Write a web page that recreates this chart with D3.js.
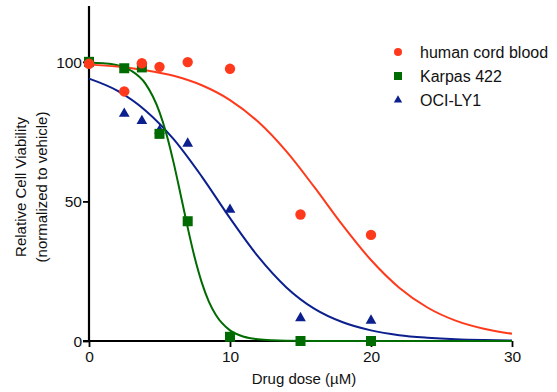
<!DOCTYPE html>
<html>
<head>
<meta charset="utf-8">
<script src="https://cdn.jsdelivr.net/npm/d3@7"></script>
<style>
  body { margin: 0; background: #fff; }
  svg { font-family: "Liberation Sans", Arial, sans-serif; }
</style>
</head>
<body>
<div id="chart_div"></div>
<script>
// measured points (drug dose in uM, viability %)
const doses = [0, 2.5, 3.75, 5, 7, 10, 15, 20];
const cordBlood = [99.3, 89.4, 99.5, 98.2, 99.9, 97.5, 45.3, 38];
const karpas = [100, 97.7, 98, 74.2, 42.9, 1.5, 0, 0];
const ociLy1 = [null, 81.6, 79, 75.5, 70.9, 47.2, 8.4, 7.5];

// fitted curves
const cordCurveX = [0, 2, 4, 6, 8, 10, 12, 14, 16, 18, 20, 22, 24, 26, 28, 30];
const cordCurveY = [99.0, 98.3, 97.0, 95.0, 91.6, 86.3, 78.5, 67.9, 55.0, 41.4, 29.0, 19.1, 12.0, 7.3, 4.4, 2.6];
const karpasCurveX = [0, 1, 2, 3, 4, 5, 5.5, 6, 6.5, 7, 7.5, 8, 8.5, 9, 10, 11, 12, 13, 14, 16, 20, 25, 30];
const karpasCurveY = [99.8, 99.5, 98.8, 96.8, 92.2, 82.0, 74.0, 63.9, 52.4, 40.6, 29.8, 20.9, 14.1, 9.3, 3.8, 1.5, 0.6, 0.23, 0.09, 0.01, 0, 0, 0];
const ociCurveX = [0, 2, 4, 6, 8, 10, 12, 14, 16, 18, 20, 22, 24, 26, 28, 30];
const ociCurveY = [94.0, 89.7, 82.6, 72.3, 58.9, 44.0, 30.2, 19.2, 11.5, 6.7, 3.8, 2.1, 1.2, 0.64, 0.35, 0.19];

const xTicks = [0, 10, 20, 30];
const yTicks = [0, 50, 100];

const seriesNames = ["human cord blood", "Karpas 422", "OCI-LY1"];
const colors = ["#ff3a1c", "#006b00", "#0c1f8e"];

const width = 557, height = 392;

const svg = d3.select("#chart_div")
    .append("svg")
    .attr("width", width)
    .attr("height", height);

let xScale = d3.scaleLinear().domain([0, 30]).range([89, 512]);
let yScale = d3.scaleLinear().domain([0, 120]).range([341, 6]);

// axes
let xAxis = svg.append("g")
    .attr("transform", "translate(0," + yScale(0) + ")")
    .call(d3.axisBottom(xScale).tickValues(xTicks).tickSize(6).tickPadding(4).tickSizeOuter(0));
let yAxis = svg.append("g")
    .attr("transform", "translate(" + xScale(0) + ",0)")
    .call(d3.axisLeft(yScale).tickValues(yTicks).tickSize(6).tickPadding(1).tickSizeOuter(0));

[xAxis, yAxis].forEach(function(a) {
    a.select(".domain").attr("stroke", "#000").attr("stroke-width", 2.2);
    a.selectAll(".tick line").attr("stroke", "#000").attr("stroke-width", 1.8);
    a.selectAll(".tick text").attr("fill", "#111").style("font-size", "15.5px").style("font-family", "Liberation Sans, Arial, sans-serif");
});
// y domain path: extend to top of the range
yAxis.select(".domain").attr("d", "M0," + yScale(120) + "V" + yScale(0));
xAxis.select(".domain").attr("d", "M" + (xScale(0) - 6) + ",0H" + xScale(30));
yAxis.selectAll(".tick text").attr("dy", "0.34em");

// titles
svg.append("text")
    .attr("x", 304)
    .attr("y", 384)
    .attr("text-anchor", "middle")
    .style("font-size", "15px")
    .attr("fill", "#111")
    .text("Drug dose (\u00b5M)");

svg.append("text")
    .attr("transform", "translate(26,187) rotate(-90)")
    .attr("text-anchor", "middle")
    .style("font-size", "15px")
    .attr("fill", "#111")
    .text("Relative Cell Viability");
svg.append("text")
    .attr("transform", "translate(47,187) rotate(-90)")
    .attr("text-anchor", "middle")
    .style("font-size", "15px")
    .attr("fill", "#111")
    .text("(normalized to vehicle)");

// fitted curves
const line = d3.line()
    .x(d => xScale(d[0]))
    .y(d => yScale(d[1]))
    .curve(d3.curveMonotoneX);

const curves = [
    d3.zip(cordCurveX, cordCurveY),
    d3.zip(karpasCurveX, karpasCurveY),
    d3.zip(ociCurveX, ociCurveY)
];
[2, 1, 0].forEach(function(i) {
    svg.append("path")
        .datum(curves[i])
        .attr("fill", "none")
        .attr("stroke", colors[i])
        .attr("stroke-width", 2)
        .attr("d", line);
});

// markers
const triangle = d3.symbol().type(d3.symbolTriangle);
const pts = function(vals) {
    return doses.map((d, i) => [d, vals[i]]).filter(d => d[1] !== null);
};

svg.append("g").selectAll("path")
    .data(pts(ociLy1))
    .join("path")
    .attr("transform", d => "translate(" + xScale(d[0]) + "," + (yScale(d[1]) + 0.5) + ")")
    .attr("d", triangle.size(50))
    .attr("fill", colors[2]);

svg.append("g").selectAll("rect")
    .data(pts(karpas))
    .join("rect")
    .attr("x", d => xScale(d[0]) - 5)
    .attr("y", d => yScale(d[1]) - 5)
    .attr("width", 10)
    .attr("height", 10)
    .attr("fill", colors[1]);

svg.append("g").selectAll("circle")
    .data(pts(cordBlood))
    .join("circle")
    .attr("cx", d => xScale(d[0]))
    .attr("cy", d => yScale(d[1]))
    .attr("r", 5.2)
    .attr("fill", colors[0]);

// legend
const legend = svg.append("g").attr("transform", "translate(398,52)");
seriesNames.forEach(function(name, i) {
    let row = legend.append("g").attr("transform", "translate(0," + (i * 24) + ")");
    if (i === 0) {
        row.append("circle").attr("r", 4).attr("fill", colors[0]);
    } else if (i === 1) {
        row.append("rect").attr("x", -4).attr("y", -4).attr("width", 8).attr("height", 8).attr("fill", colors[1]);
    } else {
        row.append("path").attr("d", d3.symbol().type(d3.symbolTriangle).size(30)()).attr("fill", colors[2]);
    }
    row.append("text")
        .attr("x", 22)
        .attr("dy", "0.36em")
        .style("font-size", "16px")
        .attr("fill", "#111")
        .text(name);
});
</script>
</body>
</html>
